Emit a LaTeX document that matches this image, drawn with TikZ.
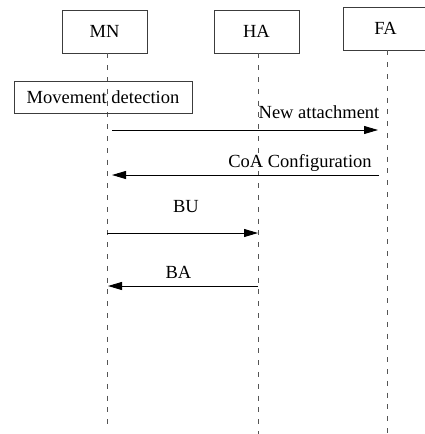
\documentclass[tikz,border=0pt]{standalone}
\usepackage{fontspec}
\setmainfont{Liberation Serif}
\usetikzlibrary{arrows.meta}
\definecolor{BoxGray}{HTML}{3C3C3C}
\definecolor{LineGray}{HTML}{555555}
\newcommand{\msgfont}{\fontsize{18.5}{22}\selectfont}

\begin{document}
\begin{tikzpicture}[
  x=1pt, y=-1pt,
  entity/.style={
    draw=BoxGray,
    line width=0.9pt,
    minimum width=85pt,
    minimum height=43pt,
    inner sep=0pt,
    font=\msgfont
  },
  lifeline/.style={draw=LineGray,line width=1pt,dash pattern=on 5pt off 6.8pt},
  msg/.style={-{Triangle[length=14pt,width=8pt]},line width=0.9pt},
  msglabel/.style={anchor=base,inner sep=0pt,font=\msgfont}
]
\useasboundingbox (0,0) rectangle (425,434);

% entities
\node[entity] (mn) at (104.5,31.5) {MN};
\node[entity] (ha) at (256.5,31.5) {HA};
\node[entity] (fa) at (385.5,28.5) {FA};

% lifelines
\coordinate (mnEnd) at (107,427);
\coordinate (haEnd) at (258,434);
\coordinate (faEnd) at (387,434);
\draw[lifeline] (mnEnd |- mn.south) -- (mnEnd);
\draw[lifeline] (haEnd |- ha.south) -- (haEnd);
\draw[lifeline] (faEnd |- fa.south) -- (faEnd);

\node[entity,minimum width=178pt,minimum height=32pt] (detect) at (103,97) {Movement detection};

% messages
\coordinate (attachFrom) at (112,130);
\coordinate (attachTo) at (378,130);
\coordinate (coaFrom) at (379,175);
\coordinate (coaTo) at (112,175);
\coordinate (buFrom) at (107,233);
\coordinate (buTo) at (258,233);
\coordinate (baFrom) at (258,286);
\coordinate (baTo) at (108,286);

\draw[msg] (attachFrom) -- (attachTo);
\draw[msg] (coaFrom) -- (coaTo);
\draw[msg] (buFrom) -- (buTo);
\draw[msg] (baFrom) -- (baTo);

\node[msglabel] (attachLabel) at (319,118) {New attachment};
\node[msglabel] (coaLabel) at (300,167) {CoA Configuration};
\node[msglabel] (buLabel) at (186,212) {BU};
\node[msglabel] (baLabel) at (178.5,278) {BA};
\end{tikzpicture}
\end{document}
